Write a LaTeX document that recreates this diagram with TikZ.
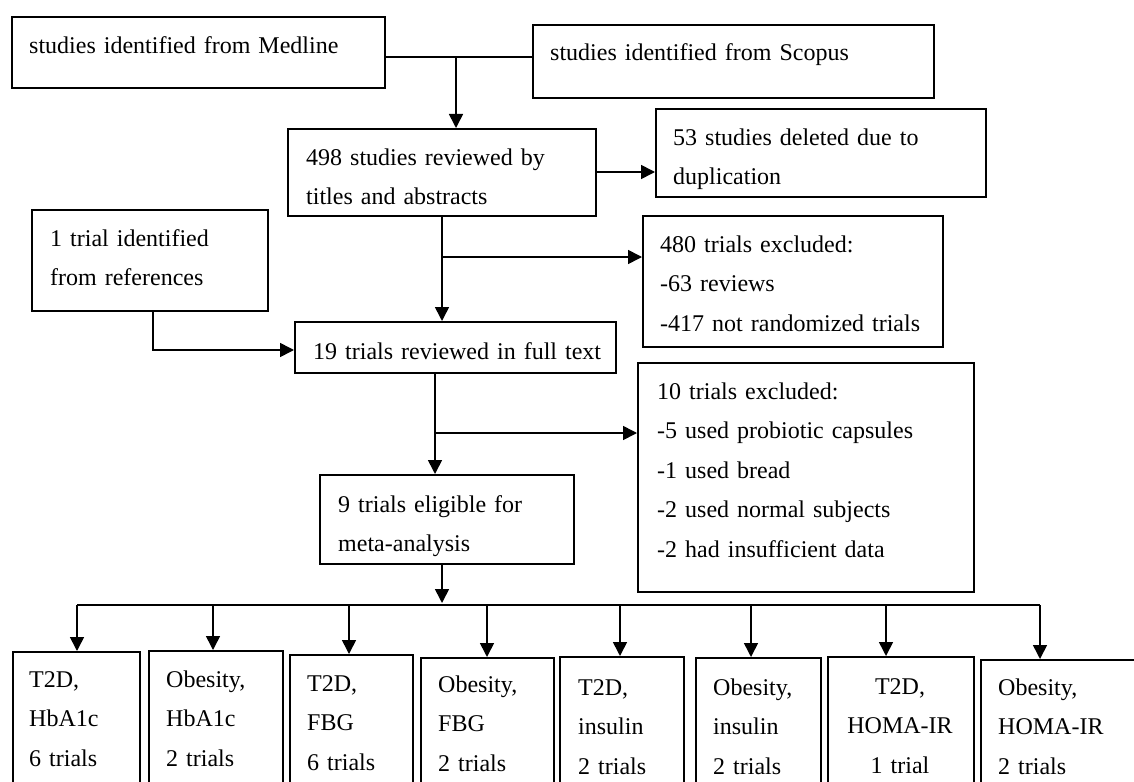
\documentclass[tikz,border=0pt]{standalone}
\usepackage{fontspec}
\setmainfont{Liberation Serif}
\usetikzlibrary{arrows.meta}
\begin{document}
\begin{tikzpicture}[x=1pt,y=-1pt]
\tikzset{
  box/.style={draw, line width=1.6pt, inner sep=0pt, anchor=north west},
  txt/.style={anchor=base west, inner sep=0pt, align=left, font=\fontsize{24}{39.5}\selectfont},
  ctxt/.style={anchor=base, inner sep=0pt, align=center, font=\fontsize{24}{39.5}\selectfont},
  ln/.style={line width=1.6pt},
  arr/.style={line width=1.6pt, -{Triangle[length=14pt,width=14pt]}}
}
\useasboundingbox (0,0) rectangle (1134,781);
% boxes
\node[box, minimum width=373pt, minimum height=71pt] (med) at (11,16) {};
\node[box, minimum width=401pt, minimum height=73pt] (sco) at (532,24) {};
\node[box, minimum width=308pt, minimum height=87pt] (r498) at (287,128) {};
\node[box, minimum width=330pt, minimum height=88pt] (d53) at (655,108) {};
\node[box, minimum width=236pt, minimum height=101pt] (ref1) at (31,209) {};
\node[box, minimum width=300pt, minimum height=131pt] (ex480) at (642,215) {};
\node[box, minimum width=321pt, minimum height=51pt] (full19) at (294,321) {};
\node[box, minimum width=336pt, minimum height=229pt] (ex10) at (637,362) {};
\node[box, minimum width=254pt, minimum height=89pt] (elig9) at (319,474) {};
\node[box, minimum width=127pt, minimum height=200pt] (b1) at (12,651) {};
\node[box, minimum width=134pt, minimum height=200pt] (b2) at (148,650) {};
\node[box, minimum width=123pt, minimum height=200pt] (b3) at (289,654) {};
\node[box, minimum width=133pt, minimum height=200pt] (b4) at (420,657) {};
\node[box, minimum width=124pt, minimum height=200pt] (b5) at (559,656) {};
\node[box, minimum width=125pt, minimum height=200pt] (b6) at (695,657) {};
\node[box, minimum width=146pt, minimum height=200pt] (b7) at (827,656) {};
\node[box, minimum width=160pt, minimum height=200pt] (b8) at (980,659) {};
% texts
\node[txt, text width=360pt] (medT) at (29,54) {studies identified from Medline};
\node[txt, text width=380pt] (scoT) at (550,61) {studies identified from Scopus};
\node[txt, text width=290pt] (r498T) at (306,165) {498 studies reviewed by\\titles and abstracts};
\node[txt, text width=310pt] (d53T) at (673,145) {53 studies deleted due to\\duplication};
\node[txt, text width=215pt] (ref1T) at (50,246) {1 trial identified\\from references};
\node[txt, text width=280pt] (ex480T) at (660,252) {480 trials excluded:\\-63 reviews\\-417 not randomized trials};
\node[txt, text width=300pt] (full19T) at (313,359) {19 trials reviewed in full text};
\node[txt, text width=315pt] (ex10T) at (657,399) {10 trials excluded:\\-5 used probiotic capsules\\-1 used bread\\-2 used normal subjects\\-2 had insufficient data};
\node[txt, text width=230pt] (elig9T) at (338,512) {9 trials eligible for\\meta-analysis};
\node[txt, text width=110pt] (b1T) at (29,687) {T2D,\\HbA1c\\6 trials};
\node[txt, text width=115pt] (b2T) at (166,687) {Obesity,\\HbA1c\\2 trials};
\node[txt, text width=105pt] (b3T) at (307,691) {T2D,\\FBG\\6 trials};
\node[txt, text width=115pt] (b4T) at (438,692) {Obesity,\\FBG\\2 trials};
\node[txt, text width=105pt] (b5T) at (578,695) {T2D,\\insulin\\2 trials};
\node[txt, text width=105pt] (b6T) at (713,695) {Obesity,\\insulin\\2 trials};
\node[ctxt, text width=140pt] (b7T) at (900,694) {T2D,\\HOMA-IR\\1 trial};
\node[txt, text width=140pt] (b8T) at (998,695) {Obesity,\\HOMA-IR\\2 trials};
% connectors
\coordinate (j1) at (456,57);
\draw[ln] (med.east |- j1) -- (sco.west |- j1);
\draw[arr] (j1) -- (r498.north -| j1);
\coordinate (j2) at (600,172);
\draw[arr] (r498.east |- j2) -- (d53.west |- j2);
\coordinate (j3) at (442,257);
\draw[arr] (r498.south -| j3) -- (full19.north -| j3);
\draw[arr] (j3) -- (ex480.west |- j3);
\coordinate (j4) at (153,350);
\draw[arr] (ref1.south -| j4) -- (j4) -- (full19.west |- j4);
\coordinate (j5) at (435,433);
\draw[arr] (full19.south -| j5) -- (elig9.north -| j5);
\draw[arr] (j5) -- (ex10.west |- j5);
\coordinate (j6) at (442,603);
\draw[arr] (elig9.south -| j6) -- (j6);
\coordinate (d1) at (77,605);
\coordinate (d2) at (213,605);
\coordinate (d3) at (349,605);
\coordinate (d4) at (487,605);
\coordinate (d5) at (620,605);
\coordinate (d6) at (751,605);
\coordinate (d7) at (886,605);
\coordinate (d8) at (1040,605);
\draw[ln] (d1) -- (d8);
\draw[arr] (d1) -- (b1.north -| d1);
\draw[arr] (d2) -- (b2.north -| d2);
\draw[arr] (d3) -- (b3.north -| d3);
\draw[arr] (d4) -- (b4.north -| d4);
\draw[arr] (d5) -- (b5.north -| d5);
\draw[arr] (d6) -- (b6.north -| d6);
\draw[arr] (d7) -- (b7.north -| d7);
\draw[arr] (d8) -- (b8.north -| d8);
\end{tikzpicture}
\end{document}
